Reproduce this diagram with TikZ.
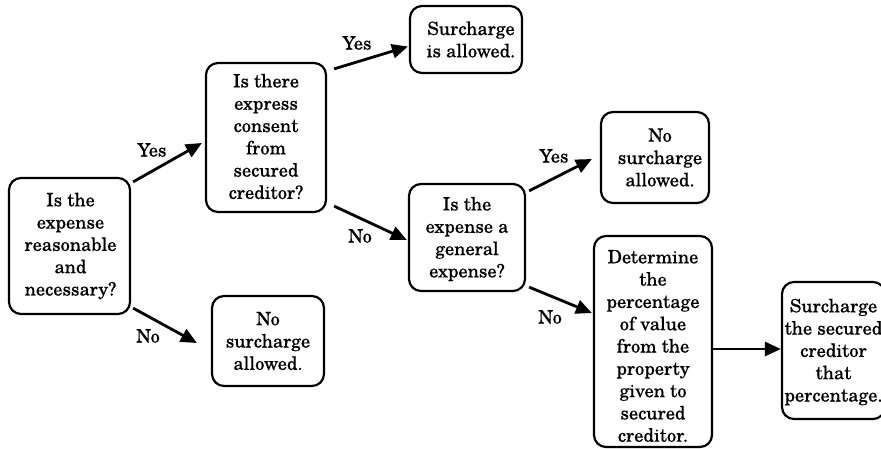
\documentclass[tikz,border=0pt]{standalone}
\usepackage{fontspec}
\setmainfont{TeX Gyre Schola}[BoldFont=TeX Gyre Schola, BoldFeatures={FakeBold=0.3}]
\usetikzlibrary{arrows.meta}
\tikzset{
  box/.style={draw, line width=2.2pt, rounded corners=12pt, inner sep=0pt, rectangle},
  txt/.style={align=center, inner sep=0pt, font=\fontsize{18.4}{22.3}\selectfont\bfseries},
  lbl/.style={inner sep=0pt, font=\fontsize{18.4}{22.3}\selectfont\bfseries},
  arr/.style={line width=2.8pt, -{Triangle[length=16pt,width=14pt]}}
}
\begin{document}
\begin{tikzpicture}[x=1pt,y=-1pt]
\useasboundingbox (0,0) rectangle (881,449);
\clip (0,0) rectangle (881,449);
% boxes
\node[box, minimum width=121pt, minimum height=136pt] (b1) at (69.5,246) {};
\node[txt] at ([xshift=1pt]b1.center) {Is the\\expense\\reasonable\\and\\necessary?};
\node[box, minimum width=120pt, minimum height=149pt] (b2) at (266,137.5) {};
\node[txt] at ([yshift=1pt]b2.center) {Is there\\express\\consent\\from\\secured\\creditor?};
\node[box, minimum width=112pt, minimum height=90pt] (b3) at (268,341) {};
\node[txt] at (b3.center) {No\\surcharge\\allowed.};
\node[box, minimum width=112pt, minimum height=67pt] (b4) at (466,39.5) {};
\node[txt] at ([xshift=5pt]b4.center) {Surcharge\\is allowed.};
\node[box, minimum width=108pt, minimum height=91pt] (b5) at (655,157.5) {};
\node[txt] at ([xshift=5pt]b5.center) {No\\surcharge\\allowed.};
\node[box, minimum width=116pt, minimum height=107pt] (b6) at (467,237.5) {};
\node[txt] at ([yshift=-1.5pt]b6.center) {Is the\\expense a\\general\\expense?};
\node[box, minimum width=118pt, minimum height=211pt] (b7) at (653,341.5) {};
\node[txt] at ([yshift=-4.5pt]b7.center) {Determine\\the\\percentage\\of value\\from the\\property\\given to\\secured\\creditor.};
\node[box, minimum width=103pt, minimum height=137pt] (b8) at (833.5,350.5) {};
\node[txt] at ([yshift=-1.5pt]b8.center) {Surcharge\\the secured\\creditor\\that\\percentage.};
% connectors
\draw[arr] ([shift={(2,5)}]b1.north east) -- ([shift={(-3,5.5)}]b2.west);
\draw[arr] ([shift={(2,-7)}]b1.south east) -- ([shift={(-14,2)}]b3.west);
\draw[arr] ([shift={(7,7)}]b2.north east) -- ([shift={(-1,7)}]b4.west);
\draw[arr] ([shift={(7,-7)}]b2.south east) -- ([shift={(-1,2.5)}]b6.west);
\draw[arr] ([shift={(3,8)}]b6.north east) -- ([shift={(-8,1.5)}]b5.west);
\draw[arr] ([shift={(3,-5)}]b6.south east) -- ([shift={(-1,-28.5)}]b7.west);
\draw[arr] ([yshift=-7.5pt]b7.east) -- ([yshift=-7.5pt]b7.east -| b8.west);
% labels
\node[lbl] (l1) at (152,150) {Yes};
\node[lbl] (l2) at (148,336) {No};
\node[lbl] (l3) at (357,43) {Yes};
\node[lbl] (l4) at (360,236) {No};
\node[lbl] (l5) at (554,156) {Yes};
\node[lbl] (l6) at (550,317) {No};
\end{tikzpicture}
\end{document}
